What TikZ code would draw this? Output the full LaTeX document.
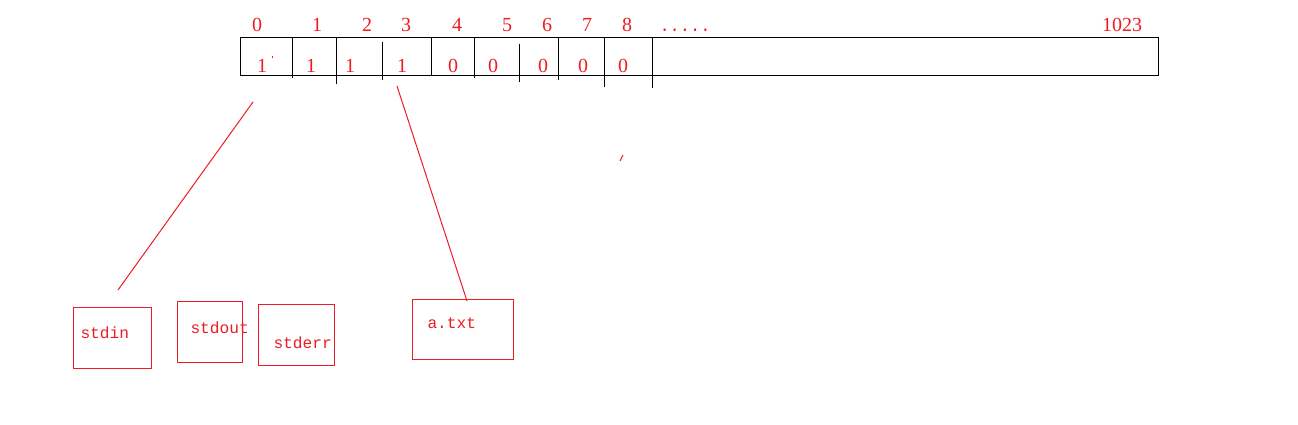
\documentclass[tikz,border=0pt]{standalone}
\usepackage{fontspec}
\setmainfont{Liberation Serif}
\setmonofont{Liberation Mono}
\definecolor{fdred}{RGB}{237,28,36}
\tikzset{
  idx/.style={text=fdred, font=\fontsize{20}{20}\selectfont\rmfamily, inner sep=0pt, anchor=base},
  fdbox/.style={draw=fdred, line width=1pt},
  fdname/.style={text=fdred, font=\fontsize{16.2}{16}\selectfont\ttfamily, inner sep=0pt, anchor=base west},
}
\begin{document}
\begin{tikzpicture}[x=1pt, y=-1pt, line width=1pt]
	\useasboundingbox (0,0) rectangle (1298,425);
	% the table
	\draw (240,38) rectangle (1158,76);
	\draw (292.7,38) -- (292.7,77.7);
	\draw (336.7,38) -- (336.7,84);
	\draw (382.3,41.7) -- (382.3,80);
	\draw (431.3,38) -- (431.3,76);
	\draw (474.3,38) -- (474.3,78);
	\draw (519.3,44) -- (519.3,81.7);
	\draw (558.3,38) -- (558.3,80);
	\draw (604.7,38) -- (604.7,86.7);
	\draw (652.7,38) -- (652.7,87.7);
	% indexes
	\foreach \i/\x in {0/257,1/317,2/367,3/406,4/457,5/507,6/547,7/587,8/627}
		\node[idx] (i\i) at (\x,31.5) {\i};
	\node[idx, font=\fontsize{17}{17}\selectfont\ttfamily] (idots) at (685,31.5) {.....};
	\node[idx] (ilast) at (1122,31.5) {1023};
	% entries
	\foreach \n/\x/\v in {0/262/1,1/311/1,2/350/1,3/402/1,4/453/0,5/493/0,6/543/0,7/583/0,8/623/0}
		\node[idx] (v\n) at (\x,72.5) {\v};
	\fill[fdred] (271.5,56.5) rectangle (272.5,58);
	% the files
	\draw[fdbox] (73,307) rectangle (151,368);
	\node[fdname] (stdin) at (80,338) {stdin};
	\draw[fdbox] (177,301) rectangle (242,362);
	\node[fdname] (stdout) at (190,333) {stdout};
	\draw[fdbox] (258,304) rectangle (334,365);
	\node[fdname] (stderr) at (273,348) {stderr};
	\draw[fdbox] (412,299) rectangle (513,359);
	\node[fdname] (atxt) at (427,328) {a.txt};
	% pointers
	\coordinate (p0) at (253,102);
	\coordinate (q0) at (118,290);
	\coordinate (p3) at (397,86);
	\coordinate (q3) at (467,301);
	\draw[fdred] (p0) -- (q0);
	\draw[fdred] (p3) -- (q3);
	\draw[fdred] (620,161) -- (623,155);
\end{tikzpicture}
\end{document}
